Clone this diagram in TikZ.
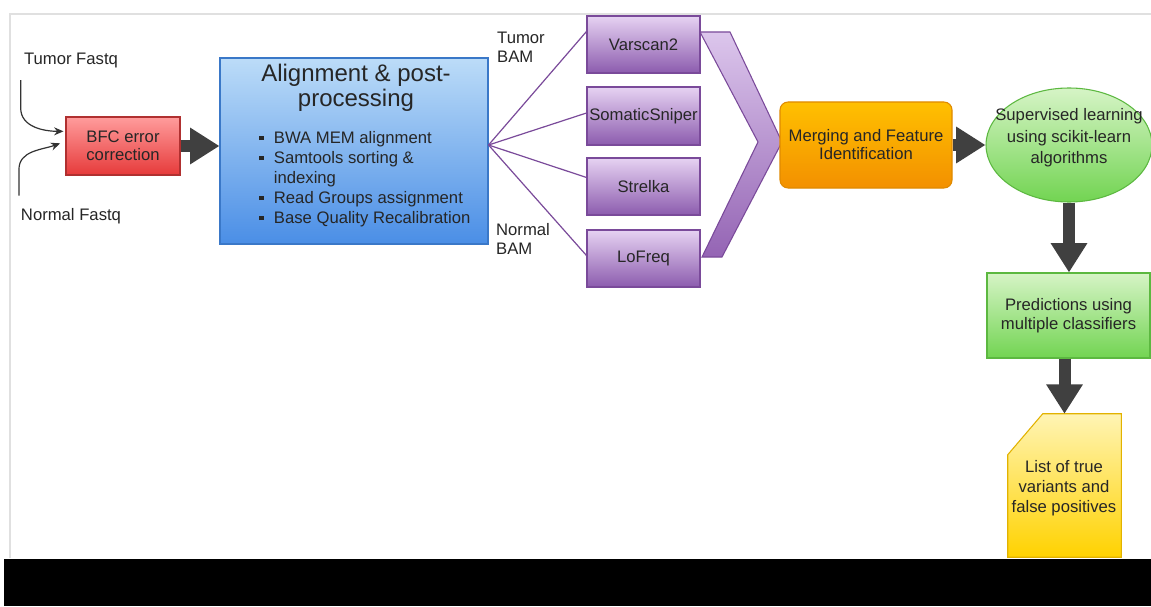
\documentclass[tikz,border=0pt]{standalone}
\usepackage{fontspec}
\setmainfont{Liberation Sans}
\usetikzlibrary{arrows.meta,fit,shapes.geometric,calc}
\definecolor{arrowgray}{HTML}{404040}
\definecolor{redT}{HTML}{FF9C9C}\definecolor{redB}{HTML}{E63A3A}\definecolor{redD}{HTML}{B03030}
\definecolor{bluT}{HTML}{BCDCF8}\definecolor{bluB}{HTML}{4A8EE6}\definecolor{bluD}{HTML}{3A78C8}
\definecolor{purT}{HTML}{E6D2F2}\definecolor{purB}{HTML}{8C5CAE}\definecolor{purD}{HTML}{7A4A9A}
\definecolor{chvT}{HTML}{DCC6EC}\definecolor{chvB}{HTML}{9464B4}
\definecolor{orT}{HTML}{FFC000}\definecolor{orB}{HTML}{F39000}\definecolor{orD}{HTML}{E08A00}
\definecolor{grT}{HTML}{D6F4C6}\definecolor{grB}{HTML}{72D452}\definecolor{grD}{HTML}{5CB840}
\definecolor{yeT}{HTML}{FFF4B4}\definecolor{yeB}{HTML}{FFD200}\definecolor{yeD}{HTML}{E2B200}
\newcommand{\sqbul}{\makebox[11pt][l]{\raisebox{2.5pt}{\rule{3.2pt}{3.2pt}}}}
\begin{document}
\begin{tikzpicture}[x=0.75pt,y=-0.75pt,
  txt/.style={font=\fontsize{12.5}{13.5}\selectfont, text=black!85, align=center},
  box/.style={txt, draw, line width=0.8pt, inner sep=0pt},
  tool/.style={box, draw=purD, top color=purT, bottom color=purB},
  bigarrow/.style={draw=arrowgray, line width=9pt, -{Triangle[length=22pt,width=26pt]}},
  fan/.style={draw=purD, line width=0.9pt},
  thinarrow/.style={draw=black!80, line width=0.9pt, -{Stealth[length=7pt,width=6pt]}}]
\path[use as bounding box, fill=white] (0,0) rectangle (1151,606);
% frame
\draw[black!12, line width=1pt] (10,558) -- (10,14) -- (1151,14);
\fill[black] (4,559) rectangle (1151,606);

% labels
\node[txt] (tf) at (71,60) {Tumor Fastq};
\node[txt] (nf) at (71,216) {Normal Fastq};
\node[txt, align=left, font=\fontsize{12.5}{14}\selectfont] (tb) at (521,47) {Tumor\\BAM};
\node[txt, align=left, font=\fontsize{12.5}{14}\selectfont] (nb) at (523,239) {Normal\\BAM};

% BFC
\node[box, draw=redD, top color=redT, bottom color=redB, fit={(66,117) (180,175)}] (bfc) {};
\node[txt] at (bfc.center) {BFC error\\correction};

% Alignment
\node[box, draw=bluD, top color=bluT, bottom color=bluB, fit={(220,58) (488,244)}] (al) {};
\node[txt, font=\fontsize{18}{19}\selectfont] (alt) at (356,88) {Alignment \& post-\\processing};
\node[txt, anchor=north west, align=left, inner sep=0pt, font=\fontsize{12.5}{15}\selectfont] (bl) at (259,131)
 {\sqbul BWA MEM alignment\\
  \sqbul Samtools sorting \&\\
  \makebox[11pt][l]{}indexing\\
  \sqbul Read Groups assignment\\
  \sqbul Base Quality Recalibration};

% chevron
\path[draw=purD, line width=0.8pt, top color=chvT, bottom color=chvB]
  (700,32) -- (730,32) -- (782,142) -- (722,257) -- (702,257) -- (758,142) -- cycle;

% tools
\node[tool, fit={(587,16) (700,73)}] (v) {};
\node[txt] at (v.center) {Varscan2};
\node[tool, fit={(587,87) (700,145)}] (s) {};
\node[txt] at (s.center) {SomaticSniper};
\node[tool, fit={(587,158) (700,215)}] (k) {};
\node[txt] at (k.center) {Strelka};
\node[tool, fit={(587,230) (700,287)}] (l) {};
\node[txt] at (l.center) {LoFreq};

% fan
\coordinate (fo) at ([yshift=4.5pt]al.east);
\draw[fan] (fo) -- ([yshift=9.75pt]v.west);
\draw[fan] (fo) -- ([yshift=2.25pt]s.west);
\draw[fan] (fo) -- ([yshift=6.75pt]k.west);
\draw[fan] (fo) -- ([yshift=2.25pt]l.west);

% merge
\node[box, draw=orD, top color=orT, bottom color=orB, rounded corners=6pt, fit={(780,102) (952,188)}] (m) {};
\node[txt] at (m.center) {Merging and Feature\\Identification};

% supervised
\node[box, ellipse, draw=grD, top color=grT, bottom color=grB, minimum width=124.5pt, minimum height=85.5pt] (sl) at (1069,145) {};
\node[txt, font=\fontsize{12.5}{16}\selectfont] at (1069,138) {Supervised learning\\using scikit-learn\\algorithms};

% predictions
\node[box, draw=grD, top color=grT, bottom color=grB, fit={(987,273) (1150,358)}] (p) {};
\node[txt, font=\fontsize{12.5}{14.5}\selectfont] at (p.center) {Predictions using\\multiple classifiers};

% document
\node[inner sep=0pt, fit={(1008,414) (1121,557)}] (doc) {};
\path[draw=yeD, line width=0.8pt, top color=yeT, bottom color=yeB]
  (doc.north east) -- (doc.south east) -- (doc.south west) -- ([yshift=-30.75pt]doc.north west) -- ([xshift=26.25pt]doc.north west) -- cycle;
\node[txt, font=\fontsize{12.5}{15}\selectfont] at (1064,488) {List of true\\variants and\\false positives};

% arrows
\draw[thinarrow] ([xshift=1pt,yshift=-6pt]tf.south west) -- ++(0,28) to[out=-90,in=180] ([xshift=-1.5pt,yshift=11pt]bfc.west);
\draw[thinarrow] ([xshift=2pt,yshift=6pt]nf.north west) -- ++(0,-26) to[out=90,in=200] ([xshift=-4pt,yshift=2pt]bfc.west);
\draw[bigarrow] (bfc.east) -- (bfc.east -| al.west);
\draw[bigarrow] (m.east) -- (sl.west);
\draw[bigarrow] (sl.south) -- (sl.south |- p.north);
\draw[bigarrow] (p.south -| doc.north) -- (doc.north);
\end{tikzpicture}
\end{document}
